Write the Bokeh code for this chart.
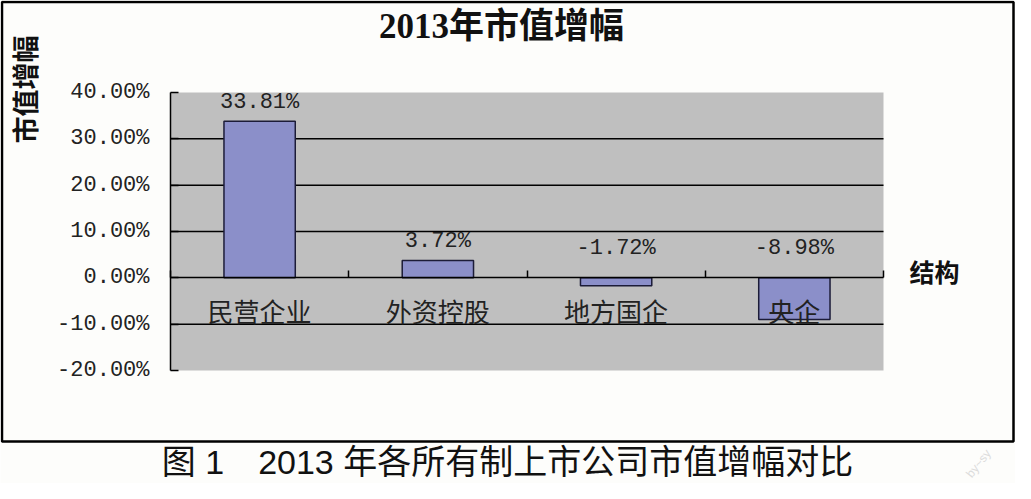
import math
from bokeh.plotting import figure
from bokeh.models import (ColumnDataSource, Range1d, FixedTicker,
                          NumeralTickFormatter, LinearAxis, Label)
from bokeh.core.properties import value
from bokeh.embed import file_html
from bokeh.resources import INLINE

# ---- data ----
categories = ["民营企业", "外资控股", "地方国企", "央企"]
growth = [0.3381, 0.0372, -0.0172, -0.0898]
y_ticks = [-0.20, -0.10, 0.0, 0.10, 0.20, 0.30, 0.40]
grid_ticks = [-0.10, 0.10, 0.20, 0.30]
title_text = "2013年市值增幅"
y_title = "市值增幅"
x_title = "结构"
caption = "图 1\u30002013 年各所有制上市公司市值增幅对比"
watermark = "by~sy"

n = len(categories)
centers = [i + 0.5 for i in range(n)]
value_labels = [f"{v * 100:.2f}%" for v in growth]
label_y = [max(v, 0) for v in growth]
label_off = [-19 if v >= 0 else -29 for v in growth]

# ---- layout geometry (figure pixels) ----
W, H = 1015, 483
pa_l, pa_r, pa_t, pa_b = 170, 883, 92, 370           # grey plot area
box_l, box_r, box_t, box_b = 1.5, 1013, 1.5, 441     # bordered frame
ymin, ymax = y_ticks[0], y_ticks[-1]
px_x = (pa_r - pa_l) / n
px_y = (pa_b - pa_t) / (ymax - ymin)


def sx(px):
    return (px - pa_l) / px_x


def sy(py):
    return ymax - (py - pa_t) / px_y


src = ColumnDataSource(dict(x=centers, v=growth, ly=label_y,
                            lab=value_labels, off=label_off))

p = figure(x_range=Range1d(sx(0), sx(W)), y_range=Range1d(sy(H), sy(0)),
           width=W, height=H, output_backend="svg", toolbar_location=None,
           min_border=0)
p.background_fill_color = "#fdfdfb"
p.border_fill_color = "#fdfdfb"
p.outline_line_color = None

# outer frame
p.quad(left=sx(box_l), right=sx(box_r), bottom=sy(box_b), top=sy(box_t),
       fill_color=None, line_color="black", line_width=2.5, level="image")
# grey plot area
p.quad(left=0, right=n, bottom=ymin, top=ymax, fill_color="#bfbfbf",
       line_color=None, level="image")
# horizontal grid lines inside the plot area
p.segment(x0=0, x1=n, y0=grid_ticks, y1=grid_ticks, line_color="black",
          line_width=1.5, level="underlay")

p.vbar(x="x", top="v", bottom=0, width=0.4, source=src,
       fill_color="#8b8fc9", line_color="#1c1c38", line_width=1.5)

p.text(x="x", y="ly", text="lab", y_offset="off", source=src,
       text_align="center", text_baseline="middle",
       text_font=value("Liberation Mono"), text_font_size="22px", text_color="#222222")

# y axis at left edge of plot area
yax = p.yaxis[0]
yax.fixed_location = 0
yax.bounds = (ymin, ymax)
yax.ticker = FixedTicker(ticks=y_ticks, minor_ticks=[])
yax.formatter = NumeralTickFormatter(format="0.00%")
yax.major_label_text_font = "Liberation Mono"
yax.major_label_text_font_size = "22px"
yax.major_label_text_color = "#222222"
yax.major_tick_in = 8
yax.major_tick_out = 0
yax.major_label_standoff = 21
yax.minor_tick_line_color = None
yax.axis_line_color = "black"
yax.axis_line_width = 1.5
yax.major_tick_line_color = "black"
yax.major_tick_line_width = 1.5

# x axis on the zero line with category labels
xax = p.xaxis[0]
xax.fixed_location = 0
xax.bounds = (0, n)
xax.ticker = FixedTicker(ticks=centers, minor_ticks=[])
xax.major_label_overrides = {c: cat for c, cat in zip(centers, categories)}
xax.major_tick_line_color = None
xax.minor_tick_line_color = None
xax.axis_line_color = "black"
xax.axis_line_width = 1.5
xax.major_label_text_font = "Noto Sans CJK SC"
xax.major_label_text_font_size = "26px"
xax.major_label_text_color = "#222222"
xax.major_label_standoff = 8

# boundary ticks between categories
bax = LinearAxis(ticker=FixedTicker(ticks=list(range(n + 1)), minor_ticks=[]),
                 fixed_location=0, bounds=(0, n), major_tick_in=7, major_tick_out=0,
                 major_tick_line_color="black", major_tick_line_width=1.5,
                 axis_line_color=None, minor_tick_line_color=None,
                 major_label_text_color=None, major_label_text_font_size="1px")
p.add_layout(bax, "below")

p.xgrid.grid_line_color = None
p.ygrid.grid_line_color = None

# texts
p.add_layout(Label(x=sx(501), y=sy(26), text=title_text,
                   text_align="center", text_baseline="middle",
                   text_font="Liberation Serif, Noto Sans CJK SC", text_font_style="bold",
                   text_font_size="35px", text_color="#111111"))
p.add_layout(Label(x=sx(24), y=sy(89), text=y_title,
                   angle=math.pi / 2, text_align="center", text_baseline="middle",
                   text_font="Noto Sans CJK SC", text_font_style="bold",
                   text_font_size="27px", text_color="#111111"))
p.add_layout(Label(x=sx(934), y=sy(270.5), text=x_title,
                   text_align="center", text_baseline="middle",
                   text_font="Noto Sans CJK SC", text_font_style="bold",
                   text_font_size="25px", text_color="#111111"))
p.add_layout(Label(x=sx(507), y=sy(461), text=caption,
                   text_align="center", text_baseline="middle",
                   text_font="Liberation Sans, Noto Sans CJK SC",
                   text_font_size="34px", text_color="#111111"))
p.add_layout(Label(x=sx(978), y=sy(463), text=watermark, angle=0.9,
                   text_align="center", text_baseline="middle",
                   text_font="Liberation Sans", text_font_size="12px", text_color="#dcdcdc"))

open("out.html", "w").write(file_html(p, INLINE))
